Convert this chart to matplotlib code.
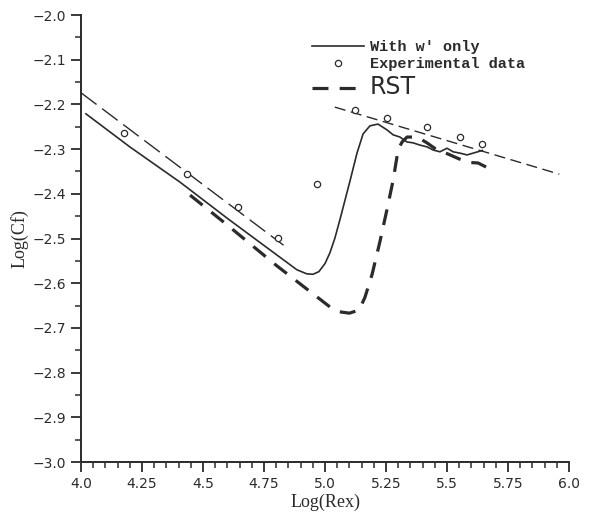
"""
plot.py
-------
Skin friction Log(Cf) vs Log(Rex): model with w' only, RST model,
experimental data and the laminar / turbulent reference lines.
"""

import matplotlib
matplotlib.use("Agg")
import matplotlib.pyplot as plt
from matplotlib.ticker import MultipleLocator, FixedLocator

# --- data ---
lam_x = [4.0, 4.83]
lam_y = [-2.174, -2.515]

turb_x = [5.04, 5.96]
turb_y = [-2.206, -2.356]

wonly_x = [4.02, 4.2, 4.406, 4.6, 4.803, 4.885, 4.925, 4.951, 4.975, 5.0,
           5.02, 5.04, 5.06, 5.082, 5.102, 5.131, 5.156, 5.184, 5.217, 5.254,
           5.279, 5.307, 5.336, 5.361, 5.389, 5.418, 5.443, 5.471, 5.5,
           5.525, 5.553, 5.582, 5.607, 5.645]
wonly_y = [-2.221, -2.295, -2.374, -2.455, -2.537, -2.570, -2.579, -2.580,
           -2.574, -2.556, -2.532, -2.500, -2.460, -2.414, -2.372, -2.309,
           -2.266, -2.248, -2.244, -2.257, -2.268, -2.273, -2.284, -2.286,
           -2.291, -2.295, -2.302, -2.306, -2.298, -2.306, -2.309, -2.313,
           -2.309, -2.303]

rst_x = [4.447, 4.6, 4.8, 5.02, 5.06, 5.10, 5.14, 5.164, 5.193, 5.225,
         5.254, 5.279, 5.30, 5.316, 5.336, 5.377, 5.418, 5.459, 5.5, 5.55,
         5.594, 5.627, 5.66]
rst_y = [-2.403, -2.47, -2.56, -2.653, -2.664, -2.667, -2.66, -2.631,
         -2.58, -2.507, -2.435, -2.37, -2.30, -2.284, -2.273, -2.273,
         -2.286, -2.302, -2.31, -2.322, -2.33, -2.331, -2.34]

exp_x = [4.176, 4.434, 4.643, 4.807, 4.967, 5.123, 5.254, 5.418, 5.553, 5.643]
exp_y = [-2.264, -2.356, -2.43, -2.499, -2.378, -2.213, -2.230, -2.251,
         -2.273, -2.289]

x_ticks = [4.0, 4.25, 4.5, 4.75, 5.0, 5.25, 5.5, 5.75, 6.0]
x_tick_labels = ["4.0", "4.25", "4.5", "4.75", "5.0", "5.25", "5.5", "5.75", "6.0"]
y_ticks = [-3.0, -2.9, -2.8, -2.7, -2.6, -2.5, -2.4, -2.3, -2.2, -2.1, -2.0]

INK = "#2b2b2b"


def main():
    fig = plt.figure(figsize=(6.01, 5.23), dpi=100)
    ax = fig.add_axes([0.1348, 0.1166, 0.812, 0.8547])

    # reference lines (thin dashes)
    ax.plot(lam_x, lam_y, color=INK, linewidth=1.0, dashes=(14, 5))
    ax.plot(turb_x, turb_y, color=INK, linewidth=1.0, dashes=(8, 4))

    line_w, = ax.plot(wonly_x, wonly_y, color=INK, linewidth=1.2,
                      label="With w\u2032 only")
    pts, = ax.plot(exp_x, exp_y, linestyle="none", marker="o", markersize=4.5,
                   markerfacecolor="white", markeredgecolor=INK,
                   markeredgewidth=0.9, label="Experimental data")
    line_rst, = ax.plot(rst_x, rst_y, color=INK, linewidth=2.3,
                        dashes=(5, 3.5), label="RST")

    ax.set_xlim(4.0, 6.0)
    ax.set_ylim(-3.0, -2.0)

    ax.xaxis.set_major_locator(FixedLocator(x_ticks))
    ax.set_xticklabels(x_tick_labels)
    ax.xaxis.set_minor_locator(MultipleLocator(0.05))
    ax.yaxis.set_major_locator(FixedLocator(y_ticks))
    ax.yaxis.set_minor_locator(MultipleLocator(0.05))
    ax.set_yticklabels([f"\u2212{abs(v):.1f}" for v in y_ticks])

    for s in ("top", "right"):
        ax.spines[s].set_visible(False)
    for s in ("left", "bottom"):
        ax.spines[s].set_color(INK)
        ax.spines[s].set_linewidth(1.4)

    ax.tick_params(which="major", direction="out", length=7, width=1.3,
                   color=INK, labelsize=10, labelcolor=INK)
    ax.tick_params(which="minor", direction="out", length=4.5, width=1.1,
                   color=INK)

    ax.set_xlabel("Log(Rex)", family="Liberation Serif", fontsize=13,
                  color=INK, labelpad=2)
    ax.set_ylabel("Log(Cf)", family="Liberation Serif", fontsize=13,
                  color=INK, labelpad=3)

    leg = ax.legend(handles=[line_w, pts, line_rst], loc="upper left",
                    bbox_to_anchor=(0.445, 0.975), frameon=False,
                    handlelength=3.4, handletextpad=0.4, labelspacing=0.22,
                    prop={"family": "Liberation Mono", "weight": "bold",
                          "size": 11})
    texts = leg.get_texts()
    for t in texts:
        t.set_color(INK)
    texts[2].set_fontfamily("DejaVu Sans")
    texts[2].set_fontweight("medium")
    texts[2].set_fontsize(17)

    fig.savefig("out.png", dpi=100, facecolor="white")


if __name__ == "__main__":
    main()
